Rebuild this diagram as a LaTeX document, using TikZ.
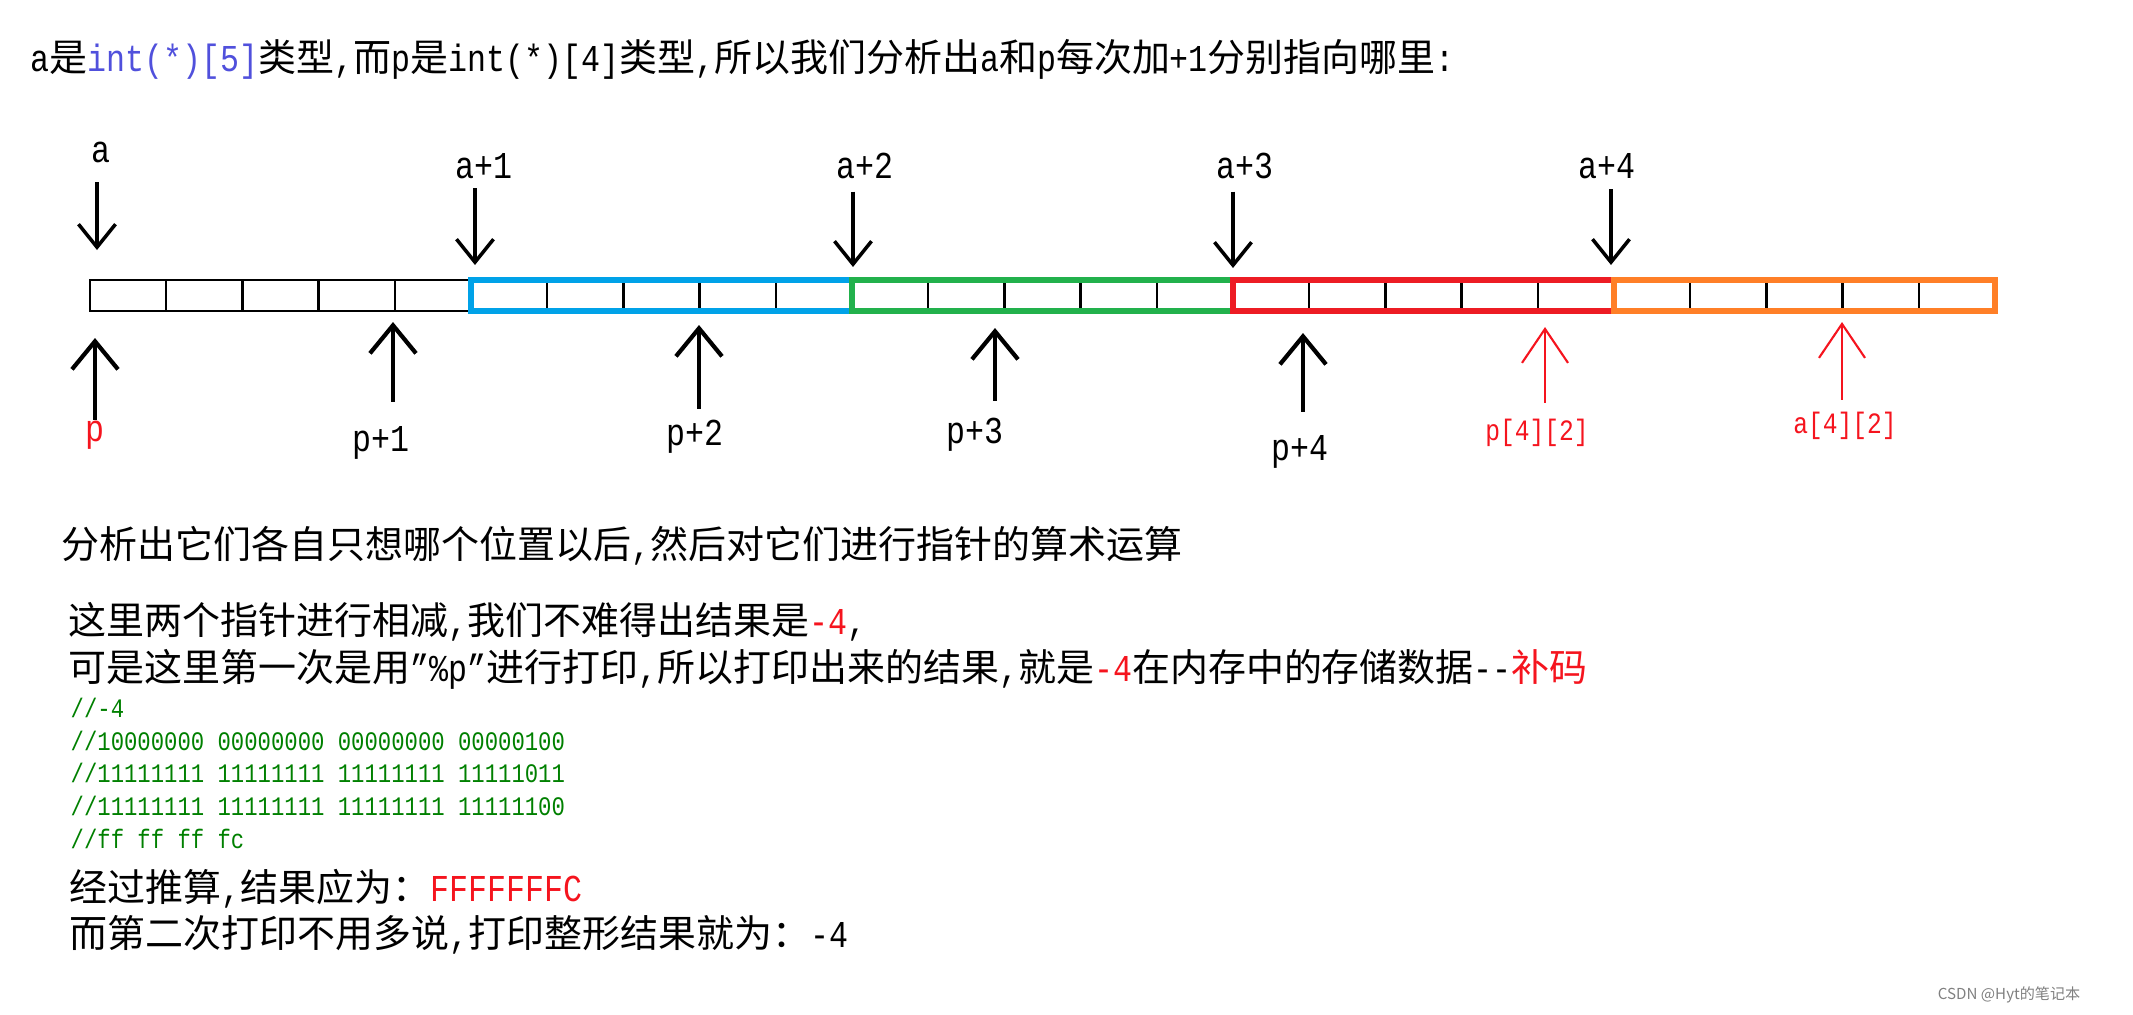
\documentclass[tikz,border=0pt]{standalone}
\usepackage{fontspec}
\setmainfont{Liberation Mono}[FakeStretch=0.833]
\newfontfamily\zhfont{Noto Sans CJK SC}
\newcommand\zh[1]{{\zhfont #1}}
\usetikzlibrary{arrows.meta}
\definecolor{cpblue}{RGB}{0,162,232}
\definecolor{cpgreen}{RGB}{34,177,76}
\definecolor{cpred}{RGB}{237,28,36}
\definecolor{cporange}{RGB}{255,127,39}
\definecolor{txtred}{RGB}{245,20,30}
\definecolor{intblue}{RGB}{80,80,220}
\definecolor{cmtgreen}{RGB}{0,128,0}

\begin{document}
\begin{tikzpicture}[x=0.01cm,y=-0.01cm,
  font=\fontsize{10.8pt}{13pt}\selectfont,
  txt/.style={anchor=base west,inner sep=0pt},
  cmt/.style={txt,text=cmtgreen,font=\fontsize{7.6pt}{9pt}\selectfont},
  lab/.style={inner sep=0pt},
  redlab/.style={lab,text=txtred,font=\fontsize{8.4pt}{10pt}\selectfont},
  cell/.style={line width=0.7pt},
  ptrdown/.style={line width=1pt,-{Straight Barb[length=2.3mm,width=3.7mm]}},
  ptrup/.style={line width=1.2pt,-{Straight Barb[length=2.8mm,width=4.6mm]}},
  ptrred/.style={line width=0.6pt,draw=txtred,-{Straight Barb[length=3.4mm,width=4.6mm]}}]
\useasboundingbox (0,0) rectangle (2133,1015);

% heading
\node[txt] (t1) at (30,71) {a\zh{是}{\color{intblue}int(*)[5]}\zh{类型},\zh{而}p\zh{是}int(*)[4]\zh{类型},\zh{所以我们分析出}a\zh{和}p\zh{每次加}+1\zh{分别指向哪里}:};

% the five blocks of the array
\foreach \i/\col/\lw in {0/black/0.85pt,1/cpblue/1.5pt,2/cpgreen/1.5pt,3/cpred/1.5pt,4/cporange/1.5pt}{
  \pgfmathsetmacro{\xl}{90+381*\i}
  \foreach \k in {1,...,4}
    \draw[cell] (\xl+76.2*\k,281) -- (\xl+76.2*\k,310);
  \draw[line width=\lw,draw=\col] (\xl,280) rectangle (\xl+381,311);
}

% a, a+1, ... from above
\foreach \n/\x/\lx/\ly/\ty/\gap/\txt in {a0/97/101/152/250/1.9/a,a1/475/484/166/265/0.9/a+1,
    a2/853/865/166/267/1.2/a+2,a3/1233/1245/166/268/1.2/a+3,a4/1611/1607/166/265/1.0/a+4}{
  \node[lab] (\n) at (\lx,\ly) {\txt};
  \coordinate (h\n) at (\x,\ty);
  \draw[ptrdown,shorten <=\gap mm] (\n.south -| h\n) -- (h\n);
}

% p, p+1, ... from below
\node[lab,text=txtred] (p0) at (95,435) {p};
\coordinate (hp0) at (95,338);
\draw[ptrup] (p0.north -| hp0) -- (hp0);
\foreach \n/\x/\lx/\ly/\ty/\gap/\txt in {p1/393/381/443/322/2.4/p+1,p2/699/695/437/325/1.1/p+2,
    p3/995/975/435/328/1.7/p+3,p4/1303/1300/452/333/2.3/p+4}{
  \node[lab] (\n) at (\lx,\ly) {\txt};
  \coordinate (h\n) at (\x,\ty);
  \draw[ptrup,shorten <=\gap mm] (\n.north -| h\n) -- (h\n);
}
\node[redlab] (pe) at (1537,433) {p[4][2]};
\coordinate (hpe) at (1545,327);
\draw[ptrred,shorten <=1.6mm] (pe.north -| hpe) -- (hpe);
\node[redlab] (ae) at (1845,426) {a[4][2]};
\coordinate (hae) at (1842,322);
\draw[ptrred,shorten <=1.2mm] (ae.north -| hae) -- (hae);

% explanation
\node[txt] (t2) at (61,558) {\zh{分析出它们各自只想哪个位置以后},\zh{然后对它们进行指针的算术运算}};
\node[txt] (t3) at (68,634) {\zh{这里两个指针进行相减},\zh{我们不难得出结果是}{\color{txtred}-4},};
\node[txt] (t4) at (68,681) {\zh{可是这里第一次是用}”\%p”\zh{进行打印},\zh{所以打印出来的结果},\zh{就是}{\color{txtred}-4}\zh{在内存中的存储数据}-{}-{\color{txtred}\zh{补码}}};
\node[cmt] (c1) at (70,717) {//-4};
\node[cmt] (c2) at (70,750) {//10000000 00000000 00000000 00000100};
\node[cmt] (c3) at (70,782) {//11111111 11111111 11111111 11111011};
\node[cmt] (c4) at (70,815) {//11111111 11111111 11111111 11111100};
\node[cmt] (c5) at (70,848) {//ff ff ff fc};
\node[txt] (t5) at (69,901) {\zh{经过推算},\zh{结果应为：}{\color{txtred}FFFFFFFC}};
\node[txt] (t6) at (69,947) {\zh{而第二次打印不用多说},\zh{打印整形结果就为：}-4};

% watermark
\node[anchor=base east,inner sep=0pt,text=black!50,font=\fontsize{4.3pt}{5pt}\selectfont] (wm) at (2081,999) {\zh{CSDN @Hyt的笔记本}};
\end{tikzpicture}
\end{document}
